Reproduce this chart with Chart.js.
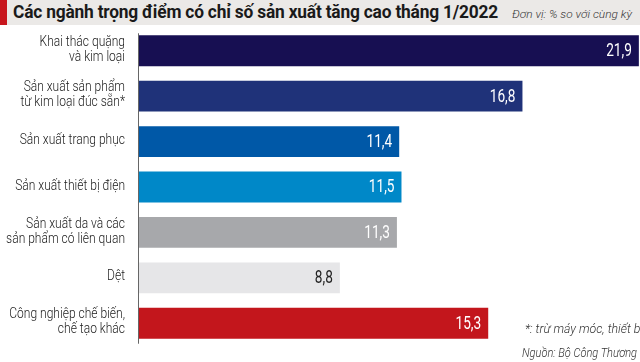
<!DOCTYPE html>
<html>
<head>
<meta charset="utf-8">
<script src="https://cdn.jsdelivr.net/npm/chart.js@4"></script>
<style>
  html, body { margin: 0; padding: 0; background: #fff; }
  #wrap { position: relative; width: 640px; height: 362px; overflow: hidden; }
  #chart { position: absolute; left: 0; top: 0; }
  .bar-head { position: absolute; left: 0; top: 0; width: 640px; height: 25px; background: #ebe9e7; }
  .bar-head .accent { position: absolute; left: 0; top: 0; width: 7px; height: 25px; background: #c8161d; }
  .fit { position: absolute; white-space: nowrap; transform-origin: 0 0; font-family: Roboto, sans-serif; }
  .title { left: 13px; top: 2px; font-size: 18px; font-weight: bold; line-height: 20px; color: #1a1a1a; letter-spacing: -0.2px; }
  .unit { left: 512px; top: 7px; font-size: 11.5px; font-style: italic; font-weight: 300; line-height: 14px; color: #333; }
  .note { font-size: 12px; font-style: italic; font-weight: 300; line-height: 14px; color: #333; }
</style>
</head>
<body>
<div id="wrap">
  <canvas id="chart" width="640" height="362"></canvas>
  <div class="bar-head"><div class="accent"></div></div>
  <div class="fit title" data-w="485">Các ngành trọng điểm có chỉ số sản xuất tăng cao tháng 1/2022</div>
  <div class="fit unit" data-w="120">Đơn vị: % so với cùng kỳ</div>
  <div class="fit note" data-w="118" style="left:525px; top:322px;">*: trừ máy móc, thiết bị</div>
  <div class="fit note" data-w="115" style="left:522px; top:346px;">Nguồn: Bộ Công Thương</div>
</div>
<script>
// 데이터
const categories = [
    ["Khai thác quặng", "và kim loại"],
    ["Sản xuất sản phẩm", "từ kim loại đúc sẵn*"],
    ["Sản xuất trang phục"],
    ["Sản xuất thiết bị điện"],
    ["Sản xuất da và các", "sản phẩm có liên quan"],
    ["Dệt"],
    ["Công nghiệp chế biến,", "chế tạo khác"]
];
const values = [21.9, 16.8, 11.4, 11.5, 11.3, 8.8, 15.3];
const barColors = ["#170f52", "#1f3279", "#0058a7", "#0088c8", "#a7a8ab", "#e6e6e8", "#c3161c"];
const labelColors = ["#fff", "#fff", "#fff", "#fff", "#fff", "#222", "#fff"];

const FONT = "Roboto, sans-serif";
const NARROW = 0.83; // 글자 가로 압축 (condensed 폰트 대용)

// HTML 텍스트 폭 맞추기
document.querySelectorAll(".fit").forEach(el => {
    const w = el.getBoundingClientRect().width;
    el.style.transform = "scaleX(" + (Number(el.dataset.w) / w) + ")";
});

// 좌측 레이블 + 축선 + 막대 값
const customDraw = {
    id: "customDraw",
    afterDatasetsDraw(chart) {
        const ctx = chart.ctx;
        const meta = chart.getDatasetMeta(0);
        const yScale = chart.scales.y;
        const area = chart.chartArea;
        ctx.save();

        // 세로 축선
        const first = meta.data[0], last = meta.data[meta.data.length - 1];
        ctx.strokeStyle = "#666";
        ctx.lineWidth = 1;
        ctx.beginPath();
        ctx.moveTo(area.left - 0.5, first.y - first.height / 2 - 2);
        ctx.lineTo(area.left - 0.5, last.y + last.height / 2 + 5);
        ctx.stroke();

        // 카테고리 레이블
        ctx.font = "300 14.5px " + FONT;
        ctx.fillStyle = "#1a1a1a";
        ctx.textAlign = "right";
        ctx.textBaseline = "middle";
        const lh = 15;
        categories.forEach((lines, i) => {
            const y = yScale.getPixelForValue(i);
            lines.forEach((line, k) => {
                ctx.save();
                ctx.translate(area.left - 14, y - 1 + (k - (lines.length - 1) / 2) * lh);
                ctx.scale(NARROW, 1);
                ctx.fillText(line, 0, 0);
                ctx.restore();
            });
        });

        // 막대 끝 값
        ctx.font = "17.5px " + FONT;
        meta.data.forEach((bar, i) => {
            ctx.save();
            ctx.translate(bar.x - 7, bar.y + 1);
            ctx.scale(0.78, 1);
            ctx.fillStyle = labelColors[i];
            ctx.fillText(values[i].toFixed(1).replace(".", ","), 0, 0);
            ctx.restore();
        });
        ctx.restore();
    }
};

new Chart(document.getElementById("chart"), {
    type: "bar",
    data: {
        labels: categories,
        datasets: [{
            data: values,
            backgroundColor: barColors,
            borderWidth: 0,
            barPercentage: 0.68,
            categoryPercentage: 1
        }]
    },
    options: {
        indexAxis: "y",
        responsive: false,
        animation: false,
        layout: { padding: { top: 28, bottom: 16, left: 139, right: 0 } },
        scales: {
            x: { display: false, min: 0, max: 21.95 },
            y: { display: false }
        },
        plugins: {
            legend: { display: false },
            tooltip: { enabled: false }
        }
    },
    plugins: [customDraw]
});
</script>
</body>
</html>
